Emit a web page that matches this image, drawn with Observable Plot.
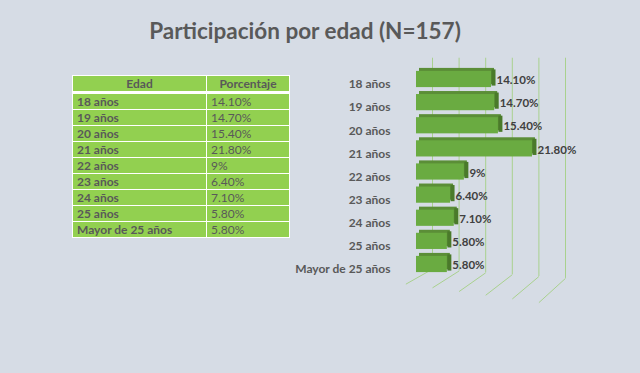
<!DOCTYPE html>
<html>
<head>
<meta charset="utf-8">
<script src="https://cdn.jsdelivr.net/npm/d3@7"></script>
<script src="https://cdn.jsdelivr.net/npm/@observablehq/plot@0.6"></script>
<style>
  html, body { margin: 0; padding: 0; }
  body { width: 640px; height: 373px; background: #d6dce5; position: relative; overflow: hidden; font-family: Lato, "Open Sans", sans-serif; }
  #title { position: absolute; left: 0; top: 17px; width: 610px; text-align: center; font-size: 22.5px; font-weight: bold; color: #595959; }
  #tbl { position: absolute; left: 72px; top: 75px; border-collapse: collapse; background: #92d050; border: 1px solid #fff; font-size: 12px; color: #595959; }
  #tbl td, #tbl th { border: 1px solid #fff; padding: 0 0 0 4px; height: 15px; line-height: 15px; }
  #tbl th { text-align: center; font-weight: bold; border-bottom: 3px solid #fff; padding: 0; }
  #tbl td.c { font-weight: bold; width: 129px; }
  #tbl td.p { font-weight: normal; width: 78px; }
  #chart { position: absolute; left: 0; top: 0; }
</style>
</head>
<body>
<div id="title">Participación por edad (N=157)</div>
<table id="tbl"></table>
<div id="chart"></div>
<script>
const headers = ["Edad", "Porcentaje"];
const categories = ["18 años", "19 años", "20 años", "21 años", "22 años", "23 años", "24 años", "25 años", "Mayor de 25 años"];
const values = [14.1, 14.7, 15.4, 21.8, 9, 6.4, 7.1, 5.8, 5.8];
const valueLabels = ["14.10%", "14.70%", "15.40%", "21.80%", "9%", "6.40%", "7.10%", "5.80%", "5.80%"];
const gridTicks = [0, 5, 10, 15, 20, 25];

// Table
const tbl = document.getElementById("tbl");
const hr = tbl.insertRow();
headers.forEach(h => { const th = document.createElement("th"); th.textContent = h; hr.appendChild(th); });
categories.forEach((c, i) => {
  const r = tbl.insertRow();
  const a = r.insertCell(); a.className = "c"; a.textContent = c;
  const b = r.insertCell(); b.className = "p"; b.textContent = valueLabels[i];
});

const data = categories.map((c, i) => ({ i, category: c, value: values[i], label: valueLabels[i] }));
const h = 0.35;

const chart = Plot.plot({
  width: 640,
  height: 373,
  marginLeft: 416,
  marginRight: 91,
  marginTop: 0,
  marginBottom: 0,
  style: { background: "transparent", fontFamily: "Lato, 'Open Sans', sans-serif", overflow: "visible" },
  x: { domain: [0, 25], axis: null },
  y: { domain: [0, 8], range: [79, 264], axis: null },
  marks: [
    Plot.ruleX(gridTicks, { x: d => d, y1: -0.92, y2: d => 8.2 + d / 25 * 0.4, dx: 16, stroke: "#a9d18e", strokeWidth: 1 }),
    Plot.link(gridTicks, { x1: d => d, x2: d => d - 5, y1: d => 8.2 + d / 25 * 0.4, y2: d => 8.85 + d / 25 * 0.8, dx: 16, stroke: "#a9d18e", strokeWidth: 1 }),
    Plot.rectX(data, { x1: 0, x2: "value", y1: d => d.i - h, y2: d => d.i + h, dx: 3, dy: -3, fill: "#5b8e37" }),
    Plot.ruleX(data, { x: "value", y1: d => d.i - h, y2: d => d.i + h, dx: 2, dy: -1.5, stroke: "#4a7a2a", strokeWidth: 4 }),
    Plot.rectX(data, { x1: 0, x2: "value", y1: d => d.i - h, y2: d => d.i + h, fill: "#6aab41" }),
    Plot.text(data, { x: "value", y: "i", text: "label", dx: 5, dy: 1, textAnchor: "start", fill: "#404040", fontWeight: "bold", fontSize: 11.5 }),
    Plot.text(data, { x: 0, y: "i", text: "category", dx: -26, dy: 5, textAnchor: "end", fill: "#595959", fontWeight: "bold", fontSize: 12 })
  ]
});
document.getElementById("chart").appendChild(chart);
</script>
</body>
</html>
